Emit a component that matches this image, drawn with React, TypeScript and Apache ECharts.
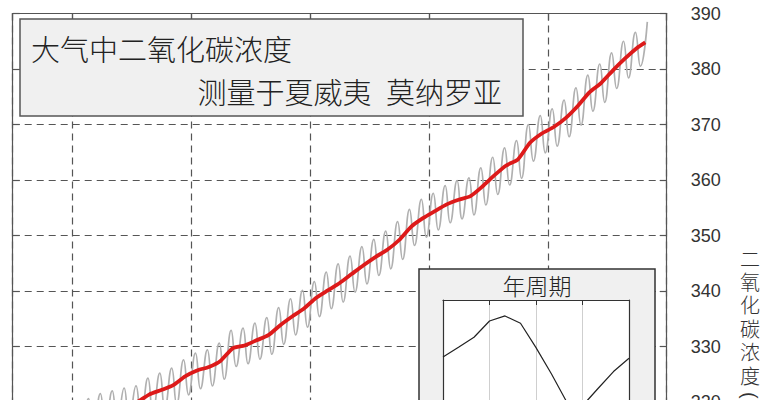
import { useEffect, useRef } from 'react';
import * as echarts from 'echarts';

// Mauna Loa annual means, 1958..2007 (plotted at mid-year)
const annualMeans = [
  315.3, 315.97, 316.91, 317.64, 318.45, 318.99, 319.62, 320.04, 321.38, 322.16,
  323.04, 324.62, 325.68, 326.32, 327.45, 329.68, 330.18, 331.11, 332.04, 333.83,
  335.4, 336.84, 338.75, 340.11, 341.45, 343.05, 344.65, 346.12, 347.42, 349.19,
  351.57, 353.12, 354.39, 355.61, 356.45, 357.1, 358.83, 360.82, 362.61, 363.73,
  366.7, 368.38, 369.55, 371.14, 373.28, 375.8, 377.52, 379.8, 381.9, 383.79,
];
const meanEnd = [2008.2, 384.8];

// monthly record: spring maximum (May) and autumn minimum (Oct) per year
const firstMonthly = [1958.2, 315.7];
const springPeaks = [
  317.5, 318.3, 320.0, 320.6, 321.5, 322.0, 322.5, 322.9, 324.3, 325.2,
  326.1, 327.6, 328.8, 329.4, 330.6, 332.9, 333.3, 334.2, 335.2, 337.0,
  338.6, 340.1, 341.7, 343.4, 344.9, 346.3, 348.0, 349.3, 350.8, 352.5,
  354.7, 356.5, 357.6, 359.0, 359.9, 360.4, 362.2, 364.1, 365.8, 367.1,
  370.0, 371.6, 372.8, 374.4, 376.6, 378.9, 380.9, 382.9, 385.0, 386.6,
  388.5,
];
const autumnLows = [
  312.4, 312.8, 313.8, 314.5, 315.2, 315.9, 316.4, 317.1, 318.1, 318.8,
  319.6, 321.3, 322.4, 322.9, 324.1, 326.4, 326.9, 327.7, 328.6, 330.4,
  332.1, 333.5, 335.4, 336.8, 338.0, 339.8, 341.3, 342.8, 344.0, 345.7,
  348.2, 349.7, 351.0, 352.3, 353.0, 353.7, 355.5, 357.4, 359.1, 360.3,
  363.4, 364.9, 366.1, 367.8, 369.9, 372.4, 374.0, 376.5, 378.4, 380.5,
];

// inset: average annual cycle, Jan..Jan (ppmv, detrended)
const cycleMonths = [0, 1, 2, 3, 4, 5, 6, 7, 8, 9, 10, 11, 12];
const cycleValues = [0.0, 0.6, 1.21, 2.21, 2.52, 2.07, 0.57, -1.05, -2.8, -3.0, -1.94, -0.9, -0.08];

const yTicks = ['310', '320', '330', '340', '350', '360', '370', '380', '390'];
const yNameChars = ['二', '氧', '化', '碳', '浓', '度'];

const CJK = '"Noto Sans CJK SC", sans-serif';
const LATIN = '"Liberation Sans", Arial, sans-serif';

export default function App() {
  const chartRef = useRef<HTMLDivElement>(null);

  useEffect(() => {
    if (!chartRef.current) return;
    const chart = echarts.init(chartRef.current, undefined, { renderer: 'svg' });

    const monthly: number[][] = [firstMonthly];
    springPeaks.forEach((p, i) => {
      monthly.push([1958.37 + i, p]);
      if (i < autumnLows.length) monthly.push([1958.79 + i, autumnLows[i]]);
    });
    const trend: number[][] = annualMeans.map((v, i) => [1958.5 + i, v]);
    trend.push(meanEnd);

    const axisLine = { show: true, onZero: false, lineStyle: { color: '#555', width: 1.2 } };
    const tickIn = { show: true, inside: true, length: 7, lineStyle: { color: '#555', width: 1.2 } };
    const dashed = { show: true, lineStyle: { color: '#555', width: 1.2, type: [7, 5] as number[] } };
    const insetLine = { show: true, onZero: false, lineStyle: { color: '#333', width: 1.2 } };
    const insetTick = { show: true, inside: true, length: 5, lineStyle: { color: '#333' } };

    const yName = yNameChars.map((c, i) => ({
      type: 'text', z: 51, x: 750, y: 258 + i * 23.4,
      style: { text: c, font: `300 20px ${CJK}`, fill: '#333', textAlign: 'center', verticalAlign: 'middle' },
    }));

    chart.setOption({
      animation: false,
      grid: [
        { left: 12.7, right: 102.3, top: 13.5, bottom: 62.5, outerBoundsMode: 'none' },
        { left: 443, right: 140, top: 300, bottom: 98, outerBoundsMode: 'none' },
      ],
      xAxis: [
        {
          gridIndex: 0, type: 'value', min: 1955, max: 2010, splitNumber: 5, position: 'bottom',
          axisLine, axisTick: tickIn, splitLine: dashed, axisLabel: { show: false },
        },
        {
          gridIndex: 0, type: 'value', min: 1955, max: 2010, splitNumber: 5, position: 'top',
          axisLine, axisTick: tickIn, splitLine: { show: false }, axisLabel: { show: false },
        },
        {
          gridIndex: 1, type: 'value', min: 0, max: 12, interval: 3, position: 'bottom', z: 60,
          axisLine: insetLine, axisTick: insetTick,
          splitLine: { show: true, lineStyle: { color: '#cfcfcf', width: 1 } },
          axisLabel: { show: false },
        },
        {
          gridIndex: 1, type: 'value', min: 0, max: 12, interval: 3, position: 'top', z: 60,
          axisLine: insetLine, axisTick: insetTick,
          splitLine: { show: false }, axisLabel: { show: false },
        },
      ],
      yAxis: [
        {
          gridIndex: 0, type: 'value', min: 310, max: 390, interval: 10, position: 'left',
          axisLine, axisTick: tickIn, splitLine: dashed, axisLabel: { show: false },
        },
        {
          gridIndex: 0, type: 'value', min: 310, max: 390, interval: 10, position: 'right',
          axisLine, axisTick: tickIn, splitLine: { show: false },
          axisLabel: {
            color: '#333', fontSize: 18, fontFamily: LATIN, margin: 24,
            formatter: (v: number) => yTicks.find((t) => Number(t) === v) ?? '',
          },
        },
        {
          gridIndex: 1, type: 'value', min: -4, max: 3.5, position: 'left', z: 60,
          axisLine: insetLine, axisTick: { show: false }, splitLine: { show: false }, axisLabel: { show: false },
        },
        {
          gridIndex: 1, type: 'value', min: -4, max: 3.5, position: 'right', z: 60,
          axisLine: insetLine, axisTick: { show: false }, splitLine: { show: false }, axisLabel: { show: false },
        },
      ],
      graphic: [
        {
          type: 'rect', z: 50,
          shape: { x: 20, y: 19, width: 503, height: 97 },
          style: { fill: '#f0f0f0', stroke: '#555', lineWidth: 1.5 },
        },
        {
          type: 'text', z: 51, x: 31, y: 48,
          style: { text: '大气中二氧化碳浓度', font: `300 29px ${CJK}`, fill: '#222', verticalAlign: 'middle' },
        },
        {
          type: 'text', z: 51, x: 502, y: 91,
          style: { text: '测量于夏威夷\u2002莫纳罗亚', font: `300 29px ${CJK}`, fill: '#222', textAlign: 'right', verticalAlign: 'middle' },
        },
        {
          type: 'rect', z: 50,
          shape: { x: 419, y: 269, width: 236, height: 200 },
          style: { fill: '#f0f0f0', stroke: '#333', lineWidth: 1.5 },
        },
        {
          type: 'rect', z: 51,
          shape: { x: 443, y: 300, width: 186, height: 122 },
          style: { fill: '#fff' },
        },
        {
          type: 'text', z: 51, x: 537, y: 285,
          style: { text: '年周期', font: `300 23px ${CJK}`, fill: '#222', textAlign: 'center', verticalAlign: 'middle' },
        },
        ...yName,
        {
          type: 'text', z: 51, x: 750, y: 392, rotation: -Math.PI / 2,
          style: { text: '(ppmv)', font: `20px ${LATIN}`, fill: '#333', textAlign: 'left', verticalAlign: 'middle' },
        },
      ],
      series: [
        {
          type: 'line', xAxisIndex: 0, yAxisIndex: 0, data: monthly,
          smooth: 0.5, symbol: 'none', z: 2,
          lineStyle: { color: '#b0b0b0', width: 1.7 },
        },
        {
          type: 'line', xAxisIndex: 0, yAxisIndex: 0, data: trend,
          smooth: 0.2, symbol: 'none', z: 3,
          lineStyle: { color: '#dd1a1a', width: 3.8 },
        },
        {
          type: 'line', xAxisIndex: 2, yAxisIndex: 2,
          data: cycleMonths.map((m, i) => [m, cycleValues[i]]),
          symbol: 'none', z: 61,
          lineStyle: { color: '#222', width: 1.2 },
        },
      ],
    });

    return () => chart.dispose();
  }, []);

  return (
    <div
      ref={chartRef}
      style={{ position: 'fixed', left: 0, top: 0, width: 769, height: 520, background: '#fff' }}
    />
  );
}
